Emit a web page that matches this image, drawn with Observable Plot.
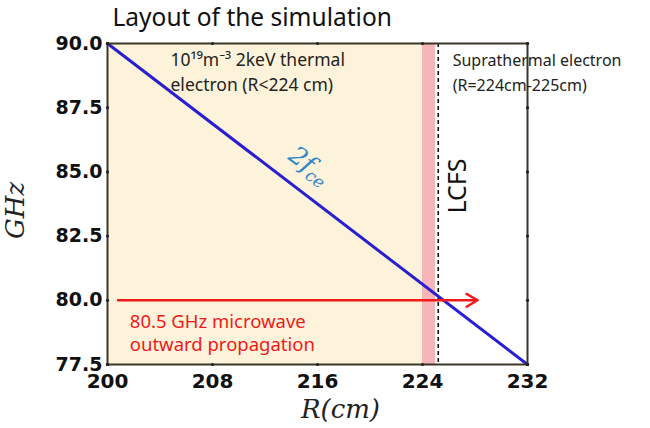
<!DOCTYPE html>
<html>
<head>
<meta charset="utf-8">
<script src="https://cdn.jsdelivr.net/npm/d3@7"></script>
<script src="https://cdn.jsdelivr.net/npm/@observablehq/plot@0.6"></script>
<style>
  body { margin: 0; background: #fff; }
  #chart svg { overflow: visible; }
</style>
</head>
<body>
<div id="chart"></div>
<script>
// ---- data ----
const rValues = [200, 232];            // R (cm)
const fceValues = [90, 77.5];          // 2f_ce (GHz)
const xTicks = [200, 208, 216, 224, 232];
const yTicks = [77.5, 80.0, 82.5, 85.0, 87.5, 90.0];
const thermalRange = [200, 224];       // thermal electron region
const supraRange = [224, 225];         // suprathermal electron region
const lcfsR = 225.2;                   // LCFS position
const waveFreq = 80.0;                 // microwave arrow level
const waveRange = [200.8, 228.2];      // arrow start / end
const title = "Layout of the simulation";

const fceLine = rValues.map((r, i) => ({r, f: fceValues[i]}));

const plot = Plot.plot({
  width: 650,
  height: 428,
  marginLeft: 107,
  marginRight: 123,
  marginTop: 43,
  marginBottom: 64,
  style: {fontFamily: "DejaVu Sans", background: "transparent"},
  x: {domain: [200, 232], label: null},
  y: {domain: [77.5, 90], label: null},
  marks: [
    Plot.rectX([thermalRange], {x1: d => d[0], x2: d => d[1], y1: 77.5, y2: 90, fill: "#fdf3da"}),
    Plot.rectX([supraRange], {x1: d => d[0], x2: d => d[1], y1: 77.5, y2: 90, fill: "#f6b5b8"}),
    Plot.ruleX([lcfsR], {stroke: "#111", strokeWidth: 1.6, strokeDasharray: "4,3"}),
    Plot.line(fceLine, {x: "r", y: "f", stroke: "#2a1fd0", strokeWidth: 3}),
    Plot.arrow([{x1: waveRange[0], x2: waveRange[1], y: waveFreq}], {
      x1: "x1", x2: "x2", y1: "y", y2: "y", stroke: "#f01a1a", strokeWidth: 2.4,
      headLength: 8, headAngle: 60
    }),
    Plot.frame({stroke: "#3a3626", strokeWidth: 2}),
    Plot.axisX(xTicks, {anchor: "bottom", tickSize: 0, tickPadding: 9, fontSize: 20, fontWeight: "bold", fill: "#111"}),
    Plot.axisY(yTicks, {anchor: "left", tickSize: 0, tickPadding: 5, fontSize: 19, fontWeight: "bold", fill: "#111", tickFormat: d3.format(".1f")}),
    Plot.dot(xTicks, {x: d => d, y: 90, r: 1.6, fill: "#222"}),
    Plot.dot(xTicks, {x: d => d, y: 77.5, r: 1.6, fill: "#222"}),
    Plot.dot(yTicks, {x: 200, y: d => d, r: 1.6, fill: "#222"}),
    Plot.dot(yTicks, {x: 232, y: d => d, r: 1.6, fill: "#222"}),
    // title
    Plot.text([title], {frameAnchor: "top-left", dx: 5, dy: -25, fontSize: 24.5, fontFamily: "Noto Sans", fill: "#111", textAnchor: "start", lineAnchor: "middle"}),
    // axis labels
    Plot.text(["R(cm)"], {x: 217.75, y: 77.5, dy: 45, fontSize: 26, fontFamily: "DejaVu Serif", fontStyle: "italic", fill: "#222", lineAnchor: "middle"}),
    Plot.text(["GHz"], {x: 193.0, y: 83.5, rotate: -90, fontSize: 26, fontFamily: "DejaVu Serif", fontStyle: "italic", fill: "#222"}),
    // annotations
    Plot.text(["10¹⁹m⁻³ 2keV thermal\nelectron (R<224 cm)"], {x: 204.8, y: 88.95, textAnchor: "start", fontSize: 17.5, fontFamily: "Noto Sans", fill: "#222", lineHeight: 1.45, lineAnchor: "middle"}),
    Plot.text(["Suprathermal electron\n(R=224cm-225cm)"], {x: 226.3, y: 88.95, textAnchor: "start", fontSize: 16, fontFamily: "Noto Sans", fill: "#222", lineHeight: 1.6, lineAnchor: "middle"}),
    Plot.text(["LCFS"], {x: 226.7, y: 84.45, rotate: -90, fontSize: 25, fontFamily: "Noto Sans", fill: "#111"}),
    Plot.text(["80.5 GHz microwave\noutward propagation"], {x: 201.7, y: 79.55, textAnchor: "start", fontSize: 18.5, fontFamily: "Noto Sans", fill: "#f01a1a", lineHeight: 1.25, lineAnchor: "top"}),
    Plot.text(["2fce"], {x: 215.4, y: 85.25, rotate: 37, fontSize: 25, fontFamily: "DejaVu Serif", fontStyle: "italic", fill: "#2f86c9", className: "fce-label"})
  ]
});

// subscript for f_ce
d3.select(plot).selectAll(".fce-label text").each(function() {
  const t = d3.select(this);
  t.text(null);
  t.append("tspan").text("2f");
  t.append("tspan").attr("font-size", 17).attr("dy", "0.3em").text("ce");
});

document.getElementById("chart").appendChild(plot);
</script>
</body>
</html>
